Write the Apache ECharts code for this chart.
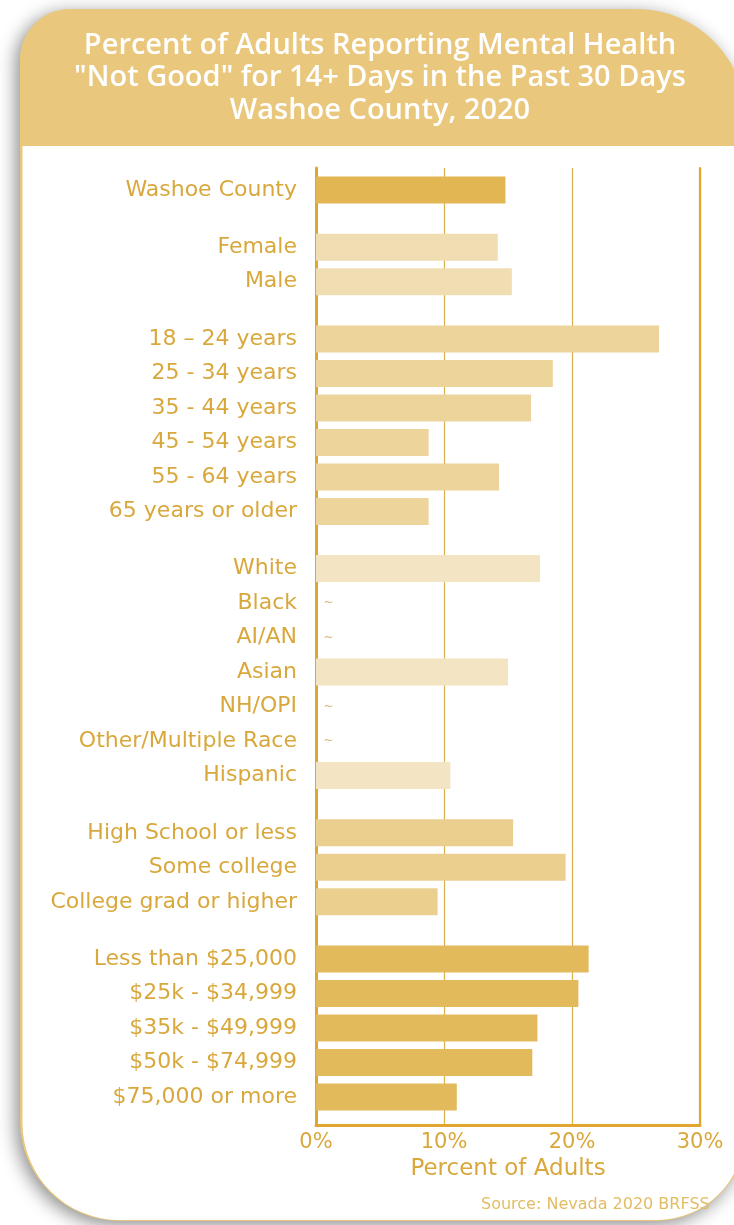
<!DOCTYPE html>
<html>
<head>
<meta charset="utf-8">
<script src="https://cdn.jsdelivr.net/npm/echarts@6/dist/echarts.min.js"></script>
<style>
html,body{margin:0;padding:0;background:#ffffff;}
#chart{width:734px;height:1225px;}
</style>
</head>
<body>
<div id="chart"></div>
<script>
// ---- data ----
var titleLines = ['Percent of Adults Reporting Mental Health', '"Not Good" for 14+ Days in the Past 30 Days', 'Washoe County, 2020'];
var xTicks = [0, 10, 20, 30];
var xAxisName = 'Percent of Adults';
var sourceText = 'Source: Nevada 2020 BRFSS';
var suppressedMark = '~';

var washoeCats = ['Washoe County'];
var washoeVals = [14.8];
var sexCats = ['Female', 'Male'];
var sexVals = [14.2, 15.3];
var ageCats = ['18 \u2013 24 years', '25 - 34 years', '35 - 44 years', '45 - 54 years', '55 - 64 years', '65 years or older'];
var ageVals = [26.8, 18.5, 16.8, 8.8, 14.3, 8.8];
var raceCats = ['White', 'Black', 'AI/AN', 'Asian', 'NH/OPI', 'Other/Multiple Race', 'Hispanic'];
var raceVals = [17.5, null, null, 15.0, null, null, 10.5];
var eduCats = ['High School or less', 'Some college', 'College grad or higher'];
var eduVals = [15.4, 19.5, 9.5];
var incomeCats = ['Less than $25,000', '$25k - $34,999', '$35k - $49,999', '$50k - $74,999', '$75,000 or more'];
var incomeVals = [21.3, 20.5, 17.3, 16.9, 11.0];

// ---- styling / layout ----
var groups = [
  {cats: washoeCats, vals: washoeVals, color: '#E1B653'},
  {cats: sexCats, vals: sexVals, color: '#F0DDB1'},
  {cats: ageCats, vals: ageVals, color: '#EDD49B'},
  {cats: raceCats, vals: raceVals, color: '#F3E5C3'},
  {cats: eduCats, vals: eduVals, color: '#EACF8F'},
  {cats: incomeCats, vals: incomeVals, color: '#E2BA5C'}
];
var GOLD_TEXT = '#D9A83C';
var LINE = '#D9AE4C';
var AXIS = '#E0A630';
var plotLeft = 316, plotRight = 700, plotTop = 168, plotBottom = 1125;
var pitch = 34.5, gap = 22.7, firstTop = 172.75;
var labelFont = 'DejaVu Sans';

var grids = [{left: plotLeft, width: plotRight - plotLeft, top: plotTop, height: plotBottom - plotTop}];
var xAxes = [{
  gridIndex: 0, type: 'value', min: xTicks[0], max: xTicks[xTicks.length - 1], interval: xTicks[1] - xTicks[0],
  axisLine: {show: true, lineStyle: {color: AXIS, width: 3}},
  axisTick: {show: false},
  splitLine: {show: true, lineStyle: {color: LINE, width: 1.2}},
  axisLabel: {formatter: '{value}%', color: GOLD_TEXT, fontSize: 21, fontFamily: labelFont, margin: 7},
  name: xAxisName, nameLocation: 'middle', nameGap: 33,
  nameTextStyle: {color: GOLD_TEXT, fontSize: 23, fontFamily: labelFont}
}];
var yAxes = [
  {gridIndex: 0, type: 'value', min: 0, max: 1, axisLine: {show: true, lineStyle: {color: AXIS, width: 3}}, axisTick: {show: false}, axisLabel: {show: false}, splitLine: {show: false}},
  {gridIndex: 0, type: 'value', min: 0, max: 1, position: 'right', axisLine: {show: true, lineStyle: {color: AXIS, width: 2.2}}, axisTick: {show: false}, axisLabel: {show: false}, splitLine: {show: false}}
];
var series = [];
var curTop = firstTop;
groups.forEach(function (g, i) {
  var gi = i + 1;
  var h = g.cats.length * pitch;
  grids.push({left: plotLeft, width: plotRight - plotLeft, top: curTop, height: h});
  curTop += h + gap;
  xAxes.push({gridIndex: gi, type: 'value', min: 0, max: 30, show: false});
  yAxes.push({
    gridIndex: gi, type: 'category', inverse: true, data: g.cats,
    axisLine: {show: false}, axisTick: {show: false}, splitLine: {show: false},
    axisLabel: {color: GOLD_TEXT, fontSize: 22, fontFamily: labelFont, margin: 19}
  });
  series.push({
    type: 'bar', xAxisIndex: gi, yAxisIndex: yAxes.length - 1,
    data: g.vals, barWidth: 27, itemStyle: {color: g.color}, silent: true
  });
  var marks = [];
  g.vals.forEach(function (v, k) { if (v === null) marks.push([0, k]); });
  if (marks.length) {
    series.push({
      type: 'scatter', xAxisIndex: gi, yAxisIndex: yAxes.length - 1,
      data: marks, symbolSize: 1, itemStyle: {color: 'rgba(0,0,0,0)'}, silent: true,
      label: {show: true, position: 'right', distance: 7, formatter: suppressedMark, color: '#CFA650', fontSize: 12, fontFamily: labelFont}
    });
  }
});

var chart = echarts.init(document.getElementById('chart'), null, {renderer: 'canvas'});
chart.setOption({
  backgroundColor: '#ffffff',
  animation: false,
  graphic: [
    {type: 'rect', z: -10, silent: true,
      shape: {x: 20, y: 9, width: 726, height: 1212, r: [50, 110, 90, 100]},
      style: {fill: '#E9C77C', shadowBlur: 18, shadowColor: 'rgba(0,0,0,0.45)', shadowOffsetX: -4, shadowOffsetY: 4}},
    {type: 'rect', z: -9, silent: true,
      shape: {x: 22.5, y: 146, width: 722, height: 1074, r: [0, 0, 88, 97]},
      style: {fill: '#ffffff'}},
    {type: 'text', z: 5, silent: true, x: 380, y: 29,
      style: {text: titleLines.join('\n'), fill: '#ffffff', fontSize: 29, fontWeight: 600, fontFamily: 'Open Sans', lineHeight: 32.5, align: 'center', verticalAlign: 'top'}},
    {type: 'text', z: 5, silent: true, x: 481, y: 1197,
      style: {text: sourceText, fill: '#E2BC63', fontSize: 16, fontFamily: labelFont}}
  ],
  grid: grids,
  xAxis: xAxes,
  yAxis: yAxes,
  series: series
});
</script>
</body>
</html>
